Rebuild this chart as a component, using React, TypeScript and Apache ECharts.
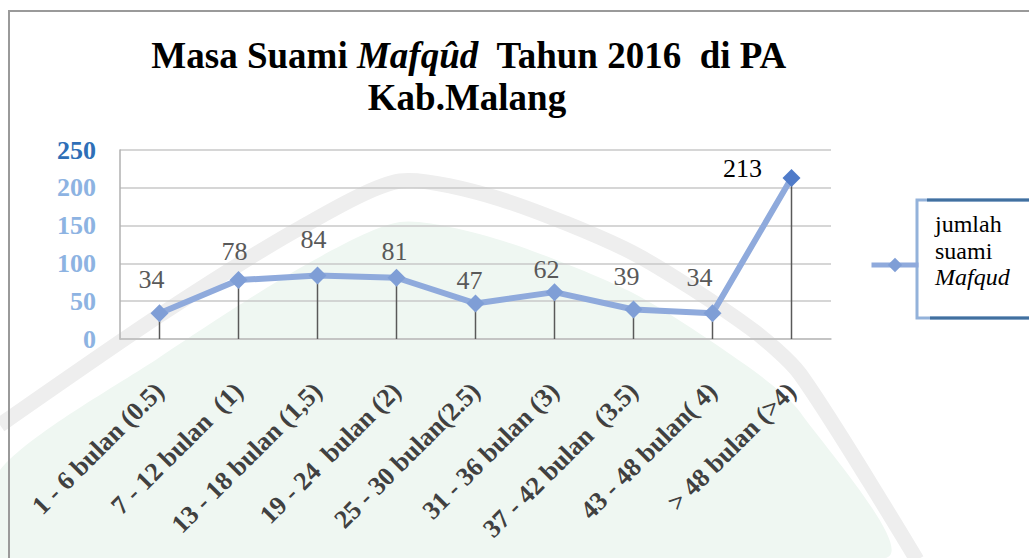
import React, { useEffect, useRef } from "react";
import * as echarts from "echarts";

const categories = [
  "1 - 6 bulan (0.5)",
  "7 - 12 bulan  (1)",
  "13 - 18 bulan (1,5)",
  "19 - 24  bulan (2)",
  "25 - 30 bulan(2.5)",
  "31 - 36 bulan (3)",
  "37 - 42 bulan  (3.5)",
  "43 - 48 bulan( 4)",
  "> 48 bulan (>4)",
];
const values = [34, 78, 84, 81, 47, 62, 39, 34, 213];
const yTicks = [0, 50, 100, 150, 200, 250];
const seriesName = "jumlah suami Mafqud";
const legendLines = ["jumlah", "suami", "Mafqud"];

// label offsets relative to the point (style, not data)
const labelOffsets = [
  [-8, -34],
  [-4, -29],
  [-4, -36],
  [-2, -26],
  [-6, -23],
  [-8, -23],
  [-7, -33],
  [-13, -36],
  [-49, -9],
];

const SERIF = "Liberation Serif";

export default function App() {
  const ref = useRef<HTMLDivElement>(null);
  useEffect(() => {
    document.body.style.margin = "0";
    const chart = echarts.init(ref.current!, null, { renderer: "svg" });
    const lineData = values.map((v, i) => ({
      value: v,
      itemStyle: { color: i === values.length - 1 ? "#4F7BC9" : "#7F9ED6" },
      label: {
        show: true,
        position: "inside",
        offset: labelOffsets[i],
        color: i === values.length - 1 ? "#000000" : "#595959",
      },
    }));
    chart.setOption({
      animation: false,
      backgroundColor: "#ffffff",
      textStyle: { fontFamily: SERIF },
      title: [
        {
          text: "{b|Masa Suami }{i|Mafqûd}{b|  Tahun 2016  di PA}",
          left: 464,
          top: 32,
          textAlign: "center",
          textStyle: {
            fontFamily: SERIF,
            fontSize: 37,
            rich: {
              b: { fontFamily: SERIF, fontWeight: "bold", fontSize: 37, color: "#000" },
              i: { fontFamily: SERIF, fontWeight: "bold", fontStyle: "italic", fontSize: 37, color: "#000" },
            },
          },
        },
        {
          text: "Kab.Malang",
          left: 462,
          top: 74,
          textAlign: "center",
          textStyle: { fontFamily: SERIF, fontWeight: "bold", fontSize: 37, color: "#000" },
        },
      ],
      graphic: [
        {
          type: "polygon",
          silent: true,
          z: -20,
          shape: {
            points: [
              [0, 470], [160, 357], [300, 268], [400, 222], [500, 240], [633, 293],
              [750, 368], [800, 412], [885, 558], [0, 558],
            ],
            smooth: 0.25,
          },
          style: { fill: "#eff7f2" },
        },
        {
          type: "polyline",
          silent: true,
          z: -19,
          shape: {
            points: [
              [0, 425], [160, 315], [300, 228], [400, 181], [500, 199], [633, 253],
              [750, 328], [800, 374], [917, 560],
            ],
            smooth: 0.25,
          },
          style: { stroke: "#eeeeee", lineWidth: 15, fill: null },
        },
        {
          type: "rect",
          silent: true,
          z: -5,
          shape: { x: 9, y: 11, width: 1100, height: 700 },
          style: { fill: null, stroke: "#9a9a9a", lineWidth: 2 },
        },
        {
          type: "rect",
          silent: true,
          z: -4,
          shape: { x: 917, y: 200, width: 200, height: 118 },
          style: { fill: "#ffffff", stroke: "#93B2DA", lineWidth: 3 },
        },
        {
          type: "line",
          silent: true,
          z: -3,
          shape: { x1: 927, y1: 200, x2: 1029, y2: 200 },
          style: { stroke: "#41709F", lineWidth: 3 },
        },
        {
          type: "line",
          silent: true,
          z: -3,
          shape: { x1: 930, y1: 318, x2: 1029, y2: 318 },
          style: { stroke: "#41709F", lineWidth: 3 },
        },
        {
          type: "text",
          silent: true,
          z: 10,
          x: 935,
          y: 211,
          style: {
            text: `{n|${legendLines[0]}}\n{n|${legendLines[1]}}\n{i|${legendLines[2]}}`,
            fontFamily: SERIF,
            fontSize: 24,
            lineHeight: 26.5,
            fill: "#000",
            verticalAlign: "top",
            align: "left",
            rich: {
              n: { fontFamily: SERIF, fontSize: 24, lineHeight: 26.5, fill: "#000", color: "#000" },
              i: { fontFamily: SERIF, fontSize: 24, lineHeight: 26.5, fill: "#000", color: "#000", fontStyle: "italic" },
            },
          },
        },
      ],
      legend: {
        data: [seriesName],
        left: 869,
        top: 256,
        padding: 0,
        itemWidth: 47,
        itemHeight: 18,
        orient: "vertical",
        lineStyle: { width: 5 },
        formatter: () => "",
        textStyle: { fontFamily: SERIF, fontSize: 14 },
      },
      grid: { left: 120, top: 150, width: 711, height: 189 },
      xAxis: {
        type: "category",
        data: categories,
        axisTick: { show: false },
        axisLine: { lineStyle: { color: "#bfbfbf", width: 1.5 } },
        axisLabel: {
          rotate: 45,
          interval: 0,
          margin: 48,
          fontFamily: SERIF,
          fontWeight: "bold",
          fontSize: 26,
          color: "#404040",
        },
      },
      yAxis: {
        type: "value",
        min: yTicks[0],
        max: yTicks[yTicks.length - 1],
        interval: 50,
        axisLine: { show: true, lineStyle: { color: "#b0b0b0", width: 1.5 } },
        axisTick: { show: false },
        splitLine: { lineStyle: { color: "#c8c8c8", width: 1.5 } },
        axisLabel: {
          margin: 24,
          fontFamily: SERIF,
          fontWeight: "bold",
          fontSize: 26,
          color: (val: any) => (Number(val) === 250 ? "#2E6FB7" : "#8DB3E2"),
        },
      },
      series: [
        {
          type: "bar",
          name: "drop",
          data: values,
          barWidth: 1.5,
          z: 1,
          itemStyle: { color: "#595959" },
          silent: true,
        },
        {
          type: "line",
          name: seriesName,
          data: lineData,
          z: 3,
          symbol: "diamond",
          symbolSize: 18,
          lineStyle: { color: "#8FAADC", width: 6 },
          itemStyle: { color: "#7F9ED6" },
          label: {
            fontFamily: SERIF,
            fontSize: 26,
          },
        },
      ],
    });
    return () => chart.dispose();
  }, []);
  return <div ref={ref} style={{ width: 1029, height: 558 }} />;
}
